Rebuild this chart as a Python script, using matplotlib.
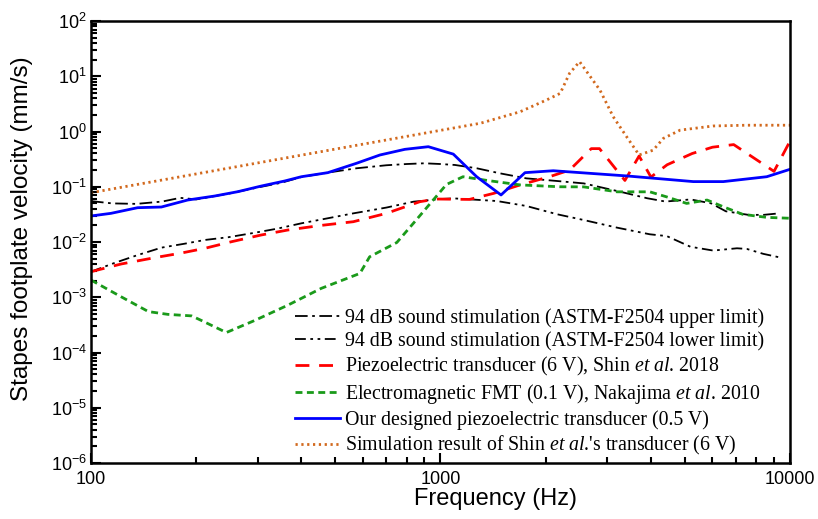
import numpy as np
import matplotlib
matplotlib.use("Agg")
import matplotlib.pyplot as plt
from matplotlib.ticker import FixedLocator, LogLocator, FuncFormatter, NullFormatter

# Fonts: Arial-like for axes, Times-like for the legend
plt.rcParams['font.family'] = ['Liberation Sans', 'DejaVu Sans']
plt.rcParams['mathtext.fontset'] = 'custom'
plt.rcParams['mathtext.it'] = 'Liberation Serif:italic'
plt.rcParams['mathtext.rm'] = 'Liberation Serif'

# 94 dB sound stimulation, ASTM-F2504 upper limit
upper_f = [100, 115, 135, 160, 180, 200, 250, 300, 350, 400, 475, 575, 700, 800, 900,
           1000, 1100, 1270, 1480, 1760, 2160, 2570, 3250, 3900, 4400, 5200, 5950,
           6550, 7600, 8400, 9300]
upper_v = [0.055, 0.050, 0.049, 0.054, 0.063, 0.059, 0.076, 0.097, 0.118, 0.150, 0.180,
           0.216, 0.245, 0.258, 0.266, 0.258, 0.248, 0.216, 0.175, 0.142, 0.127, 0.115,
           0.082, 0.062, 0.054, 0.059, 0.050, 0.036, 0.031, 0.031, 0.033]

# 94 dB sound stimulation, ASTM-F2504 lower limit
lower_f = [100, 117, 136, 159, 185, 212, 247, 294, 342, 400, 476, 563, 700, 837, 1000,
           1088, 1450, 1760, 2160, 2570, 3200, 3970, 4440, 5190, 6030, 7050, 7520, 8390,
           9300]
lower_v = [0.0029, 0.0042, 0.0058, 0.0079, 0.0093, 0.0109, 0.0122, 0.0147, 0.0175, 0.0218,
           0.0269, 0.033, 0.042, 0.0537, 0.060, 0.0617, 0.0552, 0.0449, 0.0317, 0.025,
           0.0182, 0.0138, 0.0128, 0.0082, 0.0070, 0.0077, 0.0075, 0.0061, 0.0053]

# Piezoelectric transducer (6 V), Shin et al. 2018
shin_f = [100, 122, 152, 181, 212, 252, 307, 366, 456, 563, 700, 873, 974, 1210, 1420,
          1690, 2050, 2340, 2700, 2850, 3370, 3700, 4000, 4450, 5250, 6000, 6900, 9000,
          10000]
shin_v = [0.0029, 0.0040, 0.0052, 0.0063, 0.0077, 0.0101, 0.0134, 0.0165, 0.0200, 0.0233,
          0.033, 0.0537, 0.060, 0.059, 0.076, 0.108, 0.152, 0.20, 0.49, 0.49, 0.13, 0.36,
          0.15, 0.25, 0.40, 0.52, 0.58, 0.19, 0.67]

# Electromagnetic FMT (0.1 V), Nakajima et al. 2010
fmt_f = [100, 122, 146, 166, 194, 207, 244, 294, 366, 456, 588, 627, 750, 852, 953, 1040,
         1160, 1350, 1690, 2190, 2570, 3200, 3970, 4440, 5060, 5790, 6440, 7320, 8590,
         10000]
fmt_v = [0.00205, 0.00102, 0.00055, 0.00049, 0.00046, 0.00038, 0.00023, 0.00038, 0.00072,
         0.00145, 0.0027, 0.0054, 0.0098, 0.025, 0.0575, 0.110, 0.152, 0.131, 0.108, 0.100,
         0.0995, 0.081, 0.081, 0.0655, 0.050, 0.0575, 0.0435, 0.0317, 0.0279, 0.0269]

# Our designed piezoelectric transducer (0.5 V)
ours_f = [100, 114, 136, 159, 189, 226, 263, 307, 358, 400, 476, 575, 671, 791, 923, 1088,
          1269, 1490, 1745, 2102, 3412, 5288, 6444, 8580, 10000]
ours_v = [0.0296, 0.033, 0.0418, 0.043, 0.0575, 0.068, 0.0814, 0.103, 0.127, 0.152, 0.18,
          0.266, 0.376, 0.476, 0.531, 0.39, 0.152, 0.071, 0.18, 0.195, 0.157, 0.124, 0.124,
          0.152, 0.207]

# Simulation result of Shin et al.'s transducer (6 V)
sim_f = [100, 300, 1000, 1300, 1690, 2010, 2200, 2340, 2500, 2860, 3120, 3410, 3700, 4060,
         4340, 4850, 6030, 7500, 10000]
sim_v = [0.078, 0.27, 1.05, 1.41, 2.28, 3.72, 4.9, 11.3, 18.4, 5.6, 1.85, 0.8, 0.376, 0.46,
         0.75, 1.06, 1.26, 1.3, 1.3]

labels = [
    "94 dB sound stimulation (ASTM-F2504 upper limit)",
    "94 dB sound stimulation (ASTM-F2504 lower limit)",
    r"Piezoelectric transducer (6 V), Shin $et\ al$. 2018",
    r"Electromagnetic FMT (0.1 V), Nakajima $et\ al$. 2010",
    "Our designed piezoelectric transducer (0.5 V)",
    r"Simulation result of Shin $et\ al$.'s transducer (6 V)",
]

x_ticks = [100, 1000, 10000]
y_ticks = [1e-6, 1e-5, 1e-4, 1e-3, 1e-2, 1e-1, 1e0, 1e1, 1e2]

fig = plt.figure(figsize=(8.18, 5.19), dpi=100)
ax = fig.add_axes([0.1112, 0.1079, 0.8546, 0.8516])

ax.plot(upper_f, upper_v, color='black', lw=1.3, dashes=(7, 2.5, 1.5, 2.5), label=labels[0])
ax.plot(lower_f, lower_v, color='black', lw=1.3,
        dashes=(6, 2.5, 1.5, 2.5, 1.5, 2.5), label=labels[1])
ax.plot(shin_f, shin_v, color='#ff0000', lw=2, dashes=(5, 3.5), label=labels[2])
ax.plot(fmt_f, fmt_v, color='#1a9a1a', lw=2, dashes=(2.5, 1.6), label=labels[3])
ax.plot(ours_f, ours_v, color='#0000ff', lw=2, label=labels[4])
ax.plot(sim_f, sim_v, color='#d2691e', lw=2, dashes=(0.8, 1.3), label=labels[5])

ax.set_xscale('log')
ax.set_yscale('log')
ax.set_xlim(100, 10000)
ax.set_ylim(1e-6, 1e2)

ax.xaxis.set_major_locator(FixedLocator(x_ticks))
ax.xaxis.set_major_formatter(FuncFormatter(lambda v, p: f"{int(round(v))}"))
ax.xaxis.set_minor_locator(LogLocator(base=10, subs=np.arange(2, 10)))
ax.xaxis.set_minor_formatter(NullFormatter())
ax.yaxis.set_major_locator(FixedLocator(y_ticks))
ax.yaxis.set_major_formatter(FuncFormatter(
    lambda v, p: r"$\mathregular{10^{%d}}$" % int(round(np.log10(v)))))
ax.yaxis.set_minor_locator(LogLocator(base=10, subs=np.arange(2, 10), numticks=20))
ax.yaxis.set_minor_formatter(NullFormatter())

ax.tick_params(which='both', direction='in', top=False, right=False, width=1.5)
ax.tick_params(which='major', length=7, labelsize=13)
ax.tick_params(axis='y', which='major', pad=3)
ax.tick_params(axis='x', which='major', pad=6)
ax.tick_params(which='minor', length=4)
for s in ax.spines.values():
    s.set_linewidth(1.8)

ax.set_xlabel("Frequency (Hz)", fontsize=17)
ax.set_ylabel("Stapes footplate velocity (mm/s)", fontsize=17.5)
ax.xaxis.set_label_coords(0.578, -0.057)
ax.yaxis.set_label_coords(-0.083, 0.53)

ax.legend(loc='lower left', bbox_to_anchor=(0.283, 0.0), frameon=False,
          prop={'family': 'Liberation Serif', 'size': 14.3},
          handlelength=2.26, handletextpad=0.25, labelspacing=0.2,
          borderpad=0.1, borderaxespad=0.2)

fig.savefig("out.png", dpi=100)
